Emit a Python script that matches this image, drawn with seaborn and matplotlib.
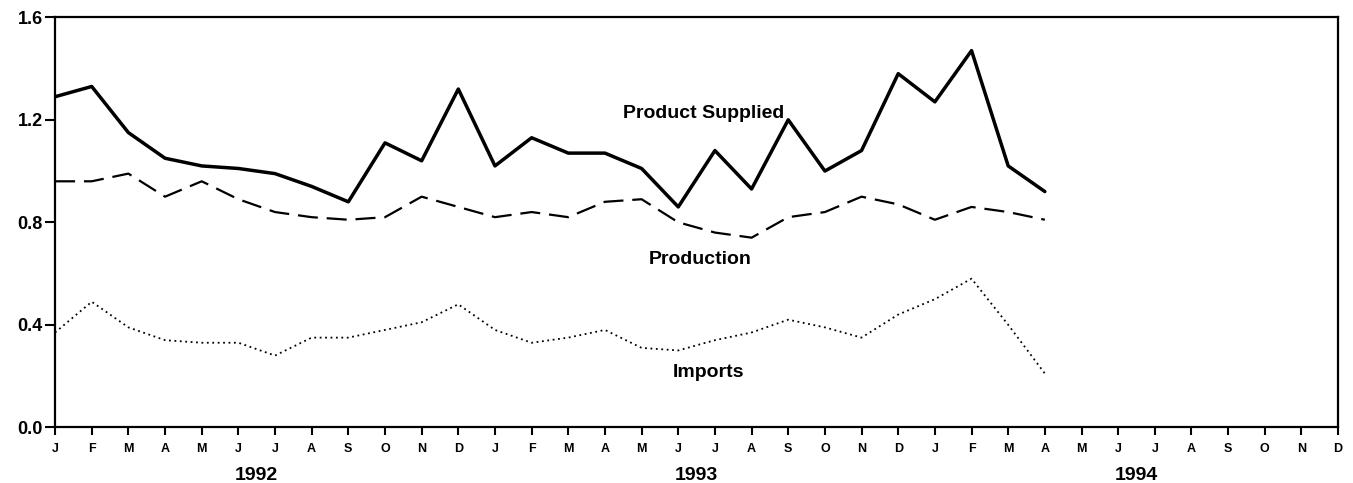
import numpy as np
import pandas as pd
import matplotlib
matplotlib.use("Agg")
import matplotlib.pyplot as plt
import seaborn as sns

# Monthly series, Jan 1992 - Apr 1994 (million barrels per day)
product_supplied = [1.29, 1.33, 1.15, 1.05, 1.02, 1.01, 0.99, 0.94, 0.88, 1.11, 1.04, 1.32,
                    1.02, 1.13, 1.07, 1.07, 1.01, 0.86, 1.08, 0.93, 1.20, 1.00, 1.08, 1.38,
                    1.27, 1.47, 1.02, 0.92]
production = [0.96, 0.96, 0.99, 0.90, 0.96, 0.89, 0.84, 0.82, 0.81, 0.82, 0.90, 0.86,
              0.82, 0.84, 0.82, 0.88, 0.89, 0.80, 0.76, 0.74, 0.82, 0.84, 0.90, 0.87,
              0.81, 0.86, 0.84, 0.81]
imports = [0.37, 0.49, 0.39, 0.34, 0.33, 0.33, 0.28, 0.35, 0.35, 0.38, 0.41, 0.48,
           0.38, 0.33, 0.35, 0.38, 0.31, 0.30, 0.34, 0.37, 0.42, 0.39, 0.35, 0.44,
           0.50, 0.58, 0.40, 0.21]

month_letters = ["J", "F", "M", "A", "M", "J", "J", "A", "S", "O", "N", "D"] * 3
years = ["1992", "1993", "1994"]
y_ticks = [0.0, 0.4, 0.8, 1.2, 1.6]

months = np.arange(len(product_supplied))
df = pd.DataFrame({
    "month": months,
    "Product Supplied": product_supplied,
    "Production": production,
    "Imports": imports,
})

sns.set_theme(style="white")
plt.rcParams["font.family"] = ["Liberation Sans", "DejaVu Sans"]
plt.rcParams["text.color"] = "black"
plt.rcParams["xtick.color"] = "black"
plt.rcParams["ytick.color"] = "black"

fig = plt.figure(figsize=(13.53, 4.83), dpi=100)
ax = fig.add_axes([0.0407, 0.1153, 0.9483, 0.8489])

sns.lineplot(data=df, x="month", y="Product Supplied", ax=ax, color="black",
             linewidth=2.5, linestyle="-")
sns.lineplot(data=df, x="month", y="Production", ax=ax, color="black",
             linewidth=1.6)
ax.lines[-1].set_dashes((9, 4))
sns.lineplot(data=df, x="month", y="Imports", ax=ax, color="black",
             linewidth=1.3)
ax.lines[-1].set_dashes((1, 2))

ax.set_xlim(0, len(month_letters) - 1)
ax.set_ylim(0, 1.6)
ax.set_xlabel("")
ax.set_ylabel("")

ax.set_yticks(y_ticks)
ax.set_yticklabels([f"{v:.1f}" for v in y_ticks], fontsize=13, fontweight="bold",
                   color="black")
ax.set_xticks(np.arange(len(month_letters)))
ax.set_xticklabels(month_letters, fontsize=9, fontweight="bold", color="black")
ax.tick_params(axis="both", direction="out", width=1.5, color="black",
               left=True, bottom=True)
ax.tick_params(axis="x", length=6, pad=5)
ax.tick_params(axis="y", length=7, pad=2)

for spine in ax.spines.values():
    spine.set_visible(True)
    spine.set_color("black")
    spine.set_linewidth(1.6)

# Year labels centered under each year's months
for i, yr in enumerate(years):
    ax.text(5.5 + 12 * i, -0.187, yr, ha="center", va="center",
            fontsize=14, fontweight="bold", color="black", clip_on=False)

# Series labels
ax.text(17.7, 1.206, "Product Supplied", ha="center", va="baseline",
        fontsize=14, fontweight="bold", color="black")
ax.text(17.61, 0.637, "Production", ha="center", va="baseline",
        fontsize=14, fontweight="bold", color="black")
ax.text(17.83, 0.197, "Imports", ha="center", va="baseline",
        fontsize=14, fontweight="bold", color="black")

fig.savefig("out.png", dpi=100, facecolor="white")
